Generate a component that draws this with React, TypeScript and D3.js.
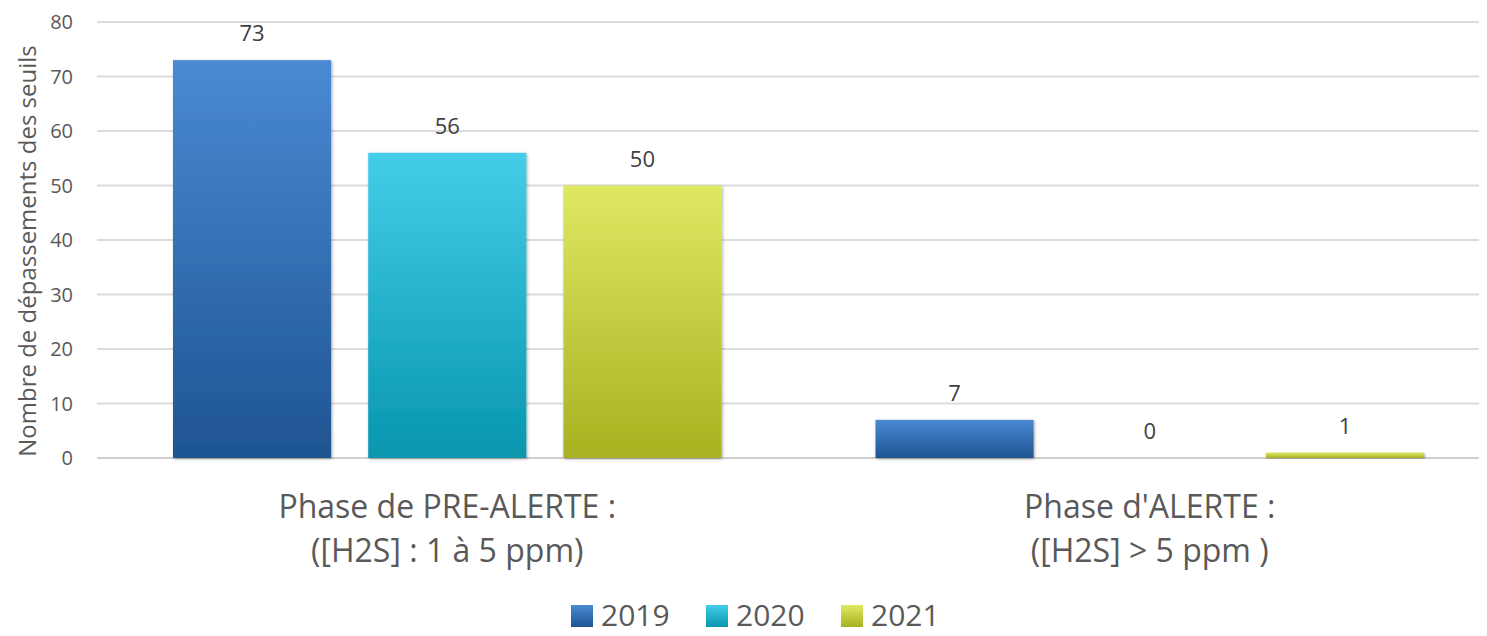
import React from 'react'
import * as d3 from 'd3'

const categories = [
  ['Phase de PRE-ALERTE :', '([H2S] : 1 à 5 ppm)'],
  ["Phase d'ALERTE :", '([H2S] > 5 ppm )'],
]
const years = ['2019', '2020', '2021']
const values2019 = [73, 7]
const values2020 = [56, 0]
const values2021 = [50, 1]
const yTicks = [0, 10, 20, 30, 40, 50, 60, 70, 80]

const seriesValues = [values2019, values2020, values2021]
// gradient stops, top then bottom
const gradients = [
  ['#4a8ad5', '#1e5491'],
  ['#44cde9', '#0896ae'],
  ['#dfe862', '#a8b120'],
]

const W = 1487
const H = 636
const font = "'Open Sans', 'Noto Sans', sans-serif"

export default function App() {
  const x = d3.scaleBand().domain(['0', '1']).range([96, 1501])
  const xi = d3.scaleBand().domain(years).range([77, x.bandwidth() - 77]).paddingInner(0.19)
  const y = d3.scaleLinear().domain([0, 80]).range([458, 22])

  return (
    <svg width={W} height={H} style={{ display: 'block', margin: -8 }}>
      <defs>
        {gradients.map((g, i) => (
          <linearGradient key={i} id={'grad' + i} x1="0" y1="0" x2="0" y2="1">
            <stop offset="0%" stopColor={g[0]} />
            <stop offset="100%" stopColor={g[1]} />
          </linearGradient>
        ))}
        <filter id="shadow" x="-10%" y="-10%" width="120%" height="120%">
          <feDropShadow dx="1" dy="1" stdDeviation="1.5" floodColor="#000" floodOpacity="0.35" />
        </filter>
      </defs>

      {yTicks.map(t => (
        <g key={t}>
          <line x1={97} x2={1487} y1={y(t)} y2={y(t)} stroke={t === 0 ? '#cfcfcf' : '#dcdcdc'} strokeWidth={2} />
          <text x={73} y={y(t) + 7} textAnchor="end" fontFamily={font} fontSize={20} fill="#595959">{t}</text>
        </g>
      ))}

      <text transform="translate(36,251) rotate(-90)" textAnchor="middle" fontFamily={font} fontSize={24} fill="#595959">
        Nombre de dépassements des seuils
      </text>

      {categories.map((c, ci) => (
        <g key={ci} transform={`translate(${x(String(ci))},0)`}>
          {years.map((yr, si) => {
            const v = seriesValues[si][ci]
            const bx = xi(yr) as number
            const top = y(v)
            return (
              <g key={yr}>
                {v > 0 && (
                  <rect x={bx} y={top} width={xi.bandwidth()} height={y(0) - top}
                    fill={`url(#grad${si})`} filter="url(#shadow)" />
                )}
                <text x={bx + xi.bandwidth() / 2} y={top - 19} textAnchor="middle" fontFamily={font} fontSize={22} fill="#404040">{v}</text>
              </g>
            )
          })}
          {c.map((line, li) => (
            <text key={li} x={x.bandwidth() / 2} y={518 + li * 44} textAnchor="middle" fontFamily={font} fontSize={32} fill="#595959">{line}</text>
          ))}
        </g>
      ))}

      {years.map((yr, i) => (
        <g key={yr} transform={`translate(${571 + i * 135},0)`}>
          <rect x={0} y={605} width={22} height={22} fill={`url(#grad${i})`} />
          <text x={30} y={626} fontFamily={font} fontSize={30} fill="#595959">{yr}</text>
        </g>
      ))}
    </svg>
  )
}
